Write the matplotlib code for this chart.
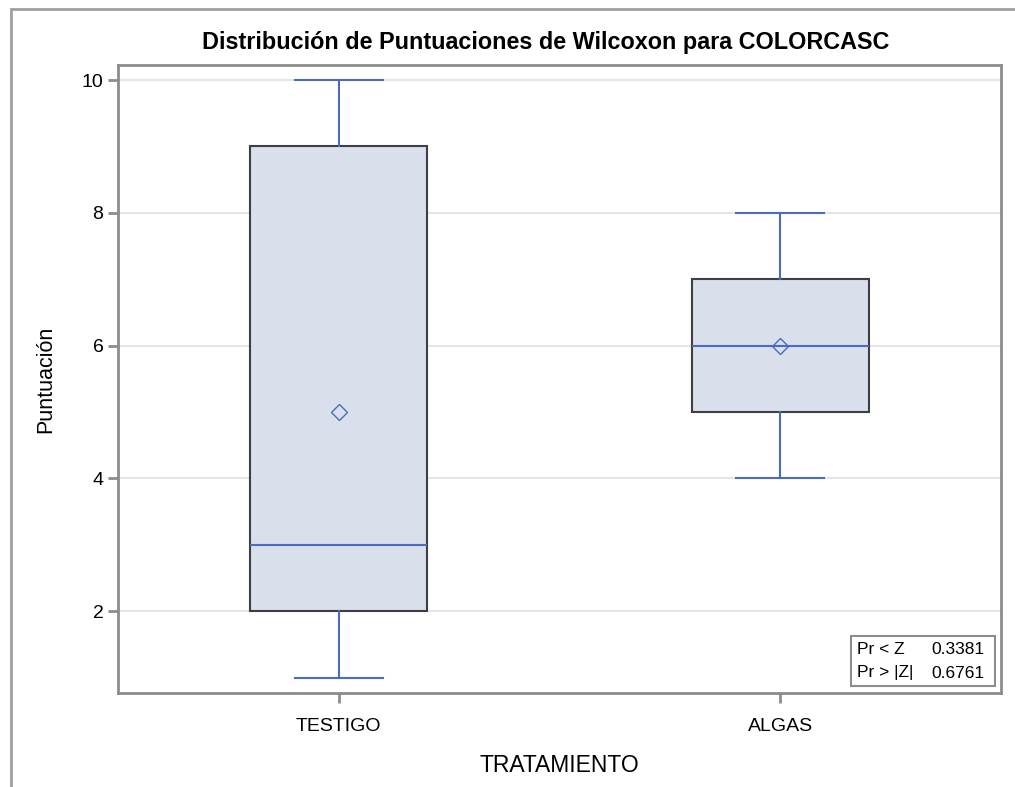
import matplotlib
matplotlib.use("Agg")
import matplotlib.pyplot as plt
from matplotlib.patches import Rectangle

matplotlib.rcParams['font.family'] = ['Liberation Sans', 'DejaVu Sans']

# Datos del boxplot
grupos = ["TESTIGO", "ALGAS"]
minimos = [1, 4]
q1 = [2, 5]
medianas = [3, 6]
q3 = [9, 7]
maximos = [10, 8]
medias = [5, 6]
stats_labels = ["Pr < Z", "Pr > |Z|"]
stats_values = ["0.3381", "0.6761"]

BLUE = "#4A6CC0"
EDGE = "#3F3F3F"
FILL = "#D9DFEB"
SPINE = "#8C8C8C"

fig = plt.figure(figsize=(10.15, 7.87), dpi=100)
W, H = 1015, 787
ax = fig.add_axes([118 / W, 1 - 693 / H, (1001 - 118) / W, (693 - 65) / H])

stats = []
for i, g in enumerate(grupos):
    stats.append(dict(label=g, whislo=minimos[i], q1=q1[i], med=medianas[i],
                      q3=q3[i], whishi=maximos[i], mean=medias[i], fliers=[]))

ax.bxp(stats, positions=range(len(grupos)), widths=0.4, patch_artist=True,
       showmeans=True, showfliers=False,
       boxprops=dict(facecolor=FILL, edgecolor=EDGE, linewidth=1.5),
       whiskerprops=dict(color=BLUE, linewidth=1.5),
       capprops=dict(color=BLUE, linewidth=1.5),
       medianprops=dict(color=BLUE, linewidth=1.5),
       meanprops=dict(marker="D", markerfacecolor="none", markeredgecolor=BLUE,
                      markersize=8, markeredgewidth=1.0),
       zorder=3)

ax.set_xlim(-0.5, 1.5)
ax.set_ylim(0.768, 10.226)
ax.set_yticks([2, 4, 6, 8, 10])
ax.set_xticks(range(len(grupos)))
ax.set_xticklabels(grupos)
ax.yaxis.grid(True, color="#E3E3E3", linewidth=1.3, zorder=0)
ax.set_axisbelow(True)

for s in ax.spines.values():
    s.set_color(SPINE)
    s.set_linewidth(2)
ax.tick_params(axis="both", colors=SPINE, labelcolor="black", labelsize=14,
               length=7, width=2)
ax.tick_params(axis="x", pad=11)

ax.set_ylabel("Puntuación", fontsize=15.5, labelpad=18)
ax.set_xlabel("TRATAMIENTO", fontsize=16.5, labelpad=14)
# titulo centrado sobre el marco exterior, no sobre el eje
fig.text(546 / W, 1 - 42 / H, "Distribución de Puntuaciones de Wilcoxon para COLORCASC",
         fontsize=16.8, fontweight="bold", ha="center", va="center")

# tabla de p-valores
tb = Rectangle((851 / W, 1 - 686 / H), (995 - 851) / W, (686 - 636) / H,
               transform=fig.transFigure, facecolor="white", edgecolor=SPINE,
               linewidth=1.5, zorder=5)
fig.patches.append(tb)
for i, (lab, val) in enumerate(zip(stats_labels, stats_values)):
    y = 1 - (649 + i * 24) / H
    fig.text(857 / W, y, lab, fontsize=12.5, va="center", ha="left", zorder=6)
    fig.text(985 / W, y, val, fontsize=12.5, va="center", ha="right", zorder=6)

# marco exterior
frame = Rectangle((11 / W, -0.05), 1.1, 1 - 9 / H + 0.05, transform=fig.transFigure,
                  facecolor="none", edgecolor="#A0A0A0", linewidth=2)
fig.patches.append(frame)

fig.savefig("out.png", dpi=100)
